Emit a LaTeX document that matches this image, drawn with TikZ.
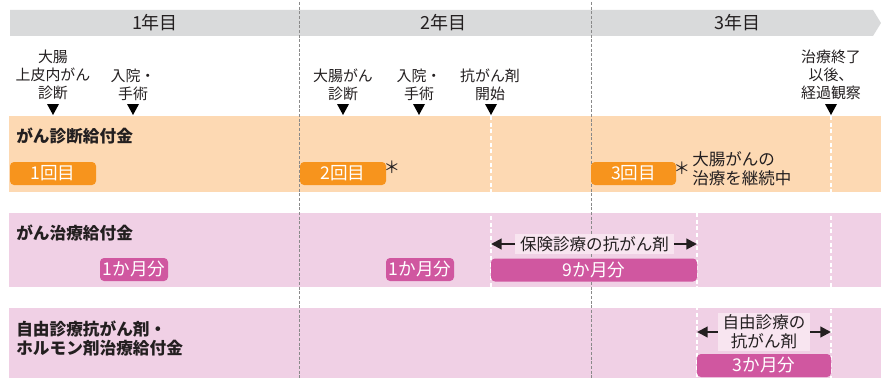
\documentclass[tikz,border=0pt]{standalone}
\usepackage{fontspec}
\setmainfont{Noto Sans CJK JP}
\usetikzlibrary{arrows.meta}
\definecolor{hdr}{HTML}{D9DADB}
\definecolor{orgband}{HTML}{FDD9B3}
\definecolor{orgpill}{HTML}{F7941D}
\definecolor{pkband}{HTML}{F0D0E5}
\definecolor{mgpill}{HTML}{D057A0}
\definecolor{pklight}{HTML}{F8E5F0}
\definecolor{txt}{HTML}{231F20}
\definecolor{dashgray}{HTML}{8A8A8A}
\begin{document}
\begin{tikzpicture}[x=0.75pt,y=-0.75pt,
  yearlbl/.style={font=\fontsize{13.5}{15}\selectfont, text=txt, inner sep=0},
  mlbl/.style={font=\fontsize{11.2}{13.5}\selectfont, align=center, text=txt, inner sep=0},
  sect/.style={font=\bfseries\fontsize{12.5}{14.25}\selectfont, align=left, text=txt, inner sep=0, anchor=west},
  note/.style={font=\fontsize{12.4}{14.25}\selectfont, align=left, text=txt, inner sep=0},
  pill/.style={rounded corners=3pt, minimum height=17.25pt, text=white, inner sep=0, font=\fontsize{13.2}{14}\selectfont},
  opill/.style={pill, fill=orgpill},
  mpill/.style={pill, fill=mgpill},
  tbox/.style={fill=pklight, font=\fontsize{12.4}{14.25}\selectfont, align=center, text=txt, inner xsep=3.5pt, inner ysep=1.5pt},
  marker/.style={fill=black},
  gdash/.style={dashgray, line width=0.6pt, dash pattern=on 2.2pt off 1.3pt},
  wdash/.style={white, line width=0.8pt, dash pattern=on 3pt off 2pt},
  darr/.style={txt, line width=1.6pt, -{Triangle[length=8pt,width=8pt]}}]
\useasboundingbox (0,0) rectangle (881,378);
% header
\fill[hdr] (10,10) -- (873,10) -- (881,23) -- (873,36) -- (10,36) -- cycle;
\node[yearlbl] (y1) at (155,23) {1年目};
\node[yearlbl] (y2) at (443,23) {2年目};
\node[yearlbl] (y3) at (737,23) {3年目};
% bands
\fill[orgband] (9,116) rectangle (881,192);
\fill[pkband] (9,213) rectangle (881,287);
\fill[pkband] (9,308) rectangle (881,378);
% white dashed guides
\draw[wdash] (491,116) -- (491,287);
\draw[wdash] (697,213) -- (697,378);
\draw[wdash] (831,116) -- (831,378);
% gray dashed year separators
\draw[gdash] (299,2) -- (299,378);
\draw[gdash] (591,2) -- (591,378);
% marker labels
\node[mlbl] (m1) at (53,75) {大腸\\上皮内がん\\診断};
\node[mlbl] (m2) at (133,85) {入院・\\手術};
\node[mlbl] (m3) at (343,85) {大腸がん\\診断};
\node[mlbl] (m4) at (419,85) {入院・\\手術};
\node[mlbl] (m5) at (490,85) {抗がん剤\\開始};
\node[mlbl] (m6) at (831,75) {治療終了\\以後、\\経過観察};
\foreach \x in {53,133,343,419,491,831}
  \fill[marker] (\x-6,104) -- (\x+6,104) -- (\x,115) -- cycle;
% band 1
\node[sect] (s1) at (16,136) {がん診断給付金};
\node[opill, minimum width=64.5pt] (p1) at (53,173.5) {1回目};
\node[opill, minimum width=64.5pt] (p2) at (343,173.5) {2回目};
\node[opill, minimum width=63.75pt] (p3) at (633.5,173.5) {3回目};
\node[note] (a1) at (392,167) {＊};
\node[note] (a2) at (682,168) {＊};
\node[note, anchor=west] (n1) at (692,168.5) {大腸がんの\\治療を継続中};
% band 2
\node[sect] (s2) at (16,233) {がん治療給付金};
\node[mpill, minimum width=51pt] (q1) at (134,269.5) {1か月分};
\node[mpill, minimum width=51pt] (q2) at (420,269.5) {1か月分};
\node[mpill, minimum width=154.5pt] (q3) at (594,270) {9か月分};
\node[tbox] (hk) at (594.5,244) {保険診療の抗がん剤};
\coordinate (hkL) at (491,244);
\coordinate (hkR) at (697,244);
\draw[darr] (hk.west) -- (hkL);
\draw[darr] (hk.east) -- (hkR);
% band 3
\node[sect] (s3) at (16,338.5) {自由診療抗がん剤・\\ホルモン剤治療給付金};
\node[mpill, minimum width=100.5pt] (r1) at (764,365.5) {3か月分};
\node[tbox] (jy) at (764,332) {自由診療の\\抗がん剤};
\coordinate (jyL) at (697,332);
\coordinate (jyR) at (831,332);
\draw[darr] (jy.west) -- (jyL);
\draw[darr] (jy.east) -- (jyR);
\end{tikzpicture}
\end{document}
